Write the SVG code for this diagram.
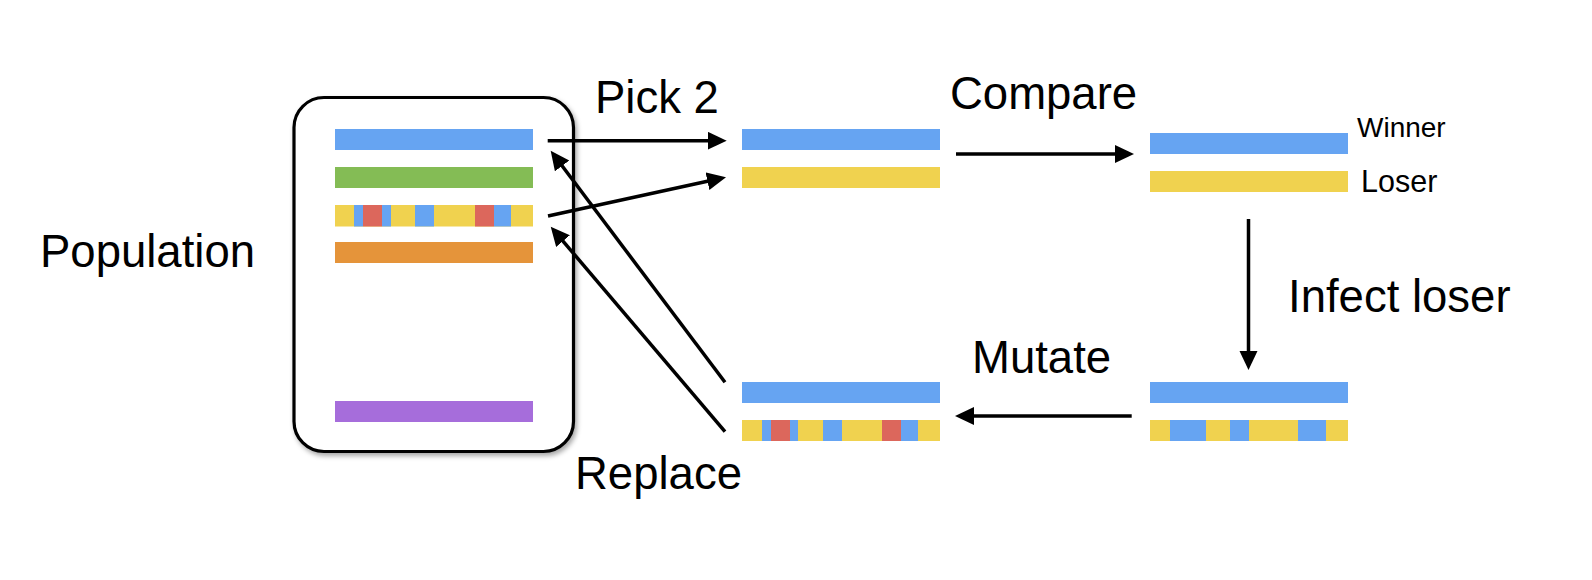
<svg xmlns="http://www.w3.org/2000/svg" width="1592" height="580" viewBox="0 0 1592 580">
<style>
.lbl{font-family:"Liberation Sans",Arial,sans-serif;fill:#000}
.b{fill:#66A4F2}.g{fill:#84BC55}.y{fill:#F0D24F}.o{fill:#E5943A}.p{fill:#A66DDB}.r{fill:#DC675C}
.conn{stroke:#000;stroke-width:3.5;fill:none;marker-end:url(#ah)}
</style>
<defs>
<marker id="ah" markerUnits="userSpaceOnUse" markerWidth="20" markerHeight="20" refX="7" refY="9" orient="auto">
<path d="M0,0 L19,9 L0,18 z" fill="#000"/>
</marker>
<filter id="sh" x="-10%" y="-10%" width="130%" height="130%">
<feDropShadow dx="2" dy="3" stdDeviation="2.5" flood-color="#000" flood-opacity="0.35"/>
</filter>
</defs>

<g id="population">
<rect x="294" y="97.5" width="279.5" height="354" rx="30" ry="30" fill="#fff" stroke="#000" stroke-width="3.2" filter="url(#sh)"/>
<rect class="b" x="335" y="129" width="198" height="21"/>
<rect class="g" x="335" y="167" width="198" height="21"/>
<g id="pop-striped">
<rect class="y" x="335" y="205" width="198" height="21.5"/>
<rect class="b" x="354" y="205" width="9" height="21.5"/>
<rect class="r" x="363" y="205" width="19" height="21.5"/>
<rect class="b" x="382" y="205" width="9" height="21.5"/>
<rect class="b" x="415" y="205" width="19" height="21.5"/>
<rect class="r" x="475" y="205" width="19" height="21.5"/>
<rect class="b" x="494" y="205" width="17" height="21.5"/>
</g>
<rect class="o" x="335" y="242" width="198" height="21"/>
<rect class="p" x="335" y="401" width="198" height="21"/>
</g>

<g id="picked">
<rect class="b" x="742" y="129" width="198" height="21"/>
<rect class="y" x="742" y="167" width="198" height="21"/>
</g>

<g id="compared">
<rect class="b" x="1150" y="133" width="198" height="21"/>
<rect class="y" x="1150" y="171" width="198" height="21"/>
<text class="lbl" x="1357" y="137" font-size="28">Winner</text>
<text class="lbl" x="1361" y="191.5" font-size="30.5">Loser</text>
</g>

<g id="infected">
<rect class="b" x="1150" y="382" width="198" height="21"/>
<rect class="y" x="1150" y="420" width="198" height="21"/>
<rect class="b" x="1170" y="420" width="36" height="21"/>
<rect class="b" x="1230" y="420" width="19" height="21"/>
<rect class="b" x="1298" y="420" width="28" height="21"/>
</g>

<g id="mutated">
<rect class="b" x="742" y="382" width="198" height="21"/>
<rect class="y" x="742" y="420" width="198" height="21"/>
<rect class="b" x="762" y="420" width="9" height="21"/>
<rect class="r" x="771" y="420" width="19" height="21"/>
<rect class="b" x="790" y="420" width="8" height="21"/>
<rect class="b" x="823" y="420" width="19" height="21"/>
<rect class="r" x="882" y="420" width="19" height="21"/>
<rect class="b" x="901" y="420" width="17" height="21"/>
</g>

<g id="labels">
<text class="lbl" x="40" y="266.7" font-size="45.5">Population</text>
<text class="lbl" x="595" y="113.3" font-size="45.5">Pick 2</text>
<text class="lbl" x="950" y="109.3" font-size="45.5">Compare</text>
<text class="lbl" x="1288" y="311.7" font-size="45.5">Infect loser</text>
<text class="lbl" x="972" y="373.3" font-size="45.5">Mutate</text>
<text class="lbl" x="575" y="489.3" font-size="45.5">Replace</text>
</g>

<g id="connectors">
<line class="conn" x1="547.7" y1="140.7" x2="714.7" y2="140.7"/>
<line class="conn" x1="548" y1="216" x2="714.3" y2="179.8"/>
<line class="conn" x1="956" y1="154" x2="1122" y2="154"/>
<line class="conn" x1="1248.5" y1="219" x2="1248.5" y2="358"/>
<line class="conn" x1="1131.7" y1="416" x2="967" y2="416"/>
<line class="conn" x1="725" y1="382.3" x2="557.9" y2="160.3"/>
<line class="conn" x1="725" y1="431.7" x2="558.5" y2="235.8"/>
</g>
</svg>
